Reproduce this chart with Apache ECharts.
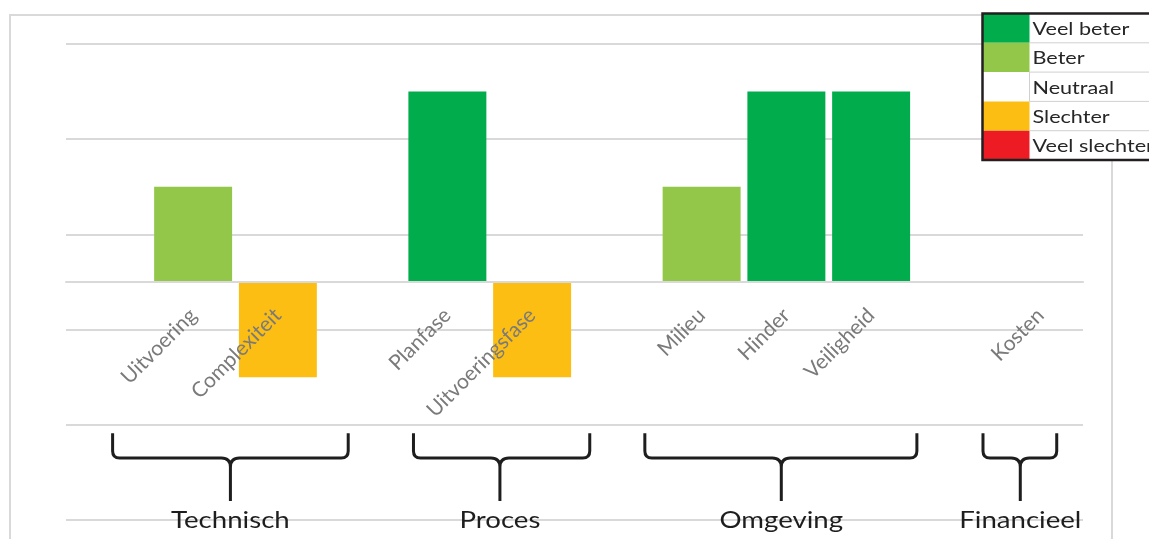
<!DOCTYPE html>
<html>
<head>
<meta charset="utf-8">
<script src="https://cdn.jsdelivr.net/npm/echarts@6/dist/echarts.min.js"></script>
<style>
  html, body { margin: 0; padding: 0; background: #ffffff; }
  #chart { width: 1149px; height: 539px; }
</style>
</head>
<body>
<div id="chart"></div>
<script>
// Aspects on the category axis; empty slots separate the groups
const categories = ['', 'Uitvoering', 'Complexiteit', '', 'Planfase', 'Uitvoeringsfase', '', 'Milieu', 'Hinder', 'Veiligheid', '', 'Kosten'];
// Score per aspect: 2 = veel beter ... -2 = veel slechter
const scores = [null, 1, -1, null, 2, -1, null, 1, 2, 2, null, 0];

// Rating scale shown in the key
const levelNames = ['Veel beter', 'Beter', 'Neutraal', 'Slechter', 'Veel slechter'];
const levelScores = [2, 1, 0, -1, -2];
const levelColors = ['#00ac4c', '#92c74a', '#ffffff', '#fdbe14', '#ed1c24'];

// Groups of aspects
const groupNames = ['Technisch', 'Proces', 'Omgeving', 'Financieel'];
// Reach of each brace along the axis, in category units: [from, to, middle]
const bracketSpans = [[0.55, 3.33, 1.94], [4.1, 6.18, 5.12], [6.83, 10.04, 8.44], [10.82, 11.69, 11.26]];

const FONT = 'Lato';
const TEXT_STRETCH = 1.2;   // the sheet's text is set a little wide
const GRID_COLOR = '#d9d9d9';
const INK = '#1e1e1e';

// Plot area and value range
const GRID = { left: 66, right: 66, top: 44, bottom: 19 };
const Y_MIN = -2.5, Y_MAX = 2.5;
const PLOT_H = 539 - GRID.top - GRID.bottom;
// lift the category axis from the bottom edge up to the zero line
const ZERO_OFFSET = -PLOT_H * (0 - Y_MIN) / (Y_MAX - Y_MIN);

function colorFor(score) {
  return levelColors[levelScores.indexOf(score)];
}

const barData = scores.map(function (s) {
  if (s === null) return '-';
  return { value: s, itemStyle: { color: colorFor(s) } };
});

// Key drawn as a bordered table
const KEY_X = 982.5, KEY_Y = 13.5, ROW_H = 29.3, SW_W = 47, KEY_W = 220, KEY_Z = 100;
const keyItems = [{
  type: 'rect', z: KEY_Z,
  shape: { x: KEY_X, y: KEY_Y, width: KEY_W, height: ROW_H * levelNames.length },
  style: { fill: '#ffffff' }
}];
levelNames.forEach(function (name, i) {
  const top = KEY_Y + i * ROW_H;
  keyItems.push({
    type: 'rect', z: KEY_Z + 1,
    shape: { x: KEY_X, y: top, width: SW_W, height: ROW_H },
    style: { fill: levelColors[i] }
  });
  keyItems.push({
    type: 'text', z: KEY_Z + 2,
    x: KEY_X + SW_W + 3, y: top + ROW_H / 2 + 1,
    scaleX: TEXT_STRETCH,
    style: { text: name, fill: '#262626', font: '18px ' + FONT, textVerticalAlign: 'middle' }
  });
  if (i > 0) {
    keyItems.push({
      type: 'line', z: KEY_Z + 1,
      shape: { x1: KEY_X + SW_W, y1: top, x2: KEY_X + KEY_W, y2: top },
      style: { stroke: '#d0d0d0', lineWidth: 1 }
    });
  }
});
keyItems.push({
  type: 'line', z: KEY_Z + 1,
  shape: { x1: KEY_X + SW_W, y1: KEY_Y + 2 * ROW_H, x2: KEY_X + SW_W, y2: KEY_Y + 3 * ROW_H },
  style: { stroke: '#d0d0d0', lineWidth: 1 }
});
keyItems.push({
  type: 'rect', z: KEY_Z + 3,
  shape: { x: KEY_X, y: KEY_Y, width: KEY_W, height: ROW_H * levelNames.length },
  style: { fill: null, stroke: '#231f20', lineWidth: 2.5 }
});

const chart = echarts.init(document.getElementById('chart'), null, { renderer: 'canvas' });

chart.setOption({
  animation: false,
  backgroundColor: '#ffffff',
  textStyle: { fontFamily: FONT },
  grid: Object.assign({ containLabel: false, outerBoundsMode: 'none' }, GRID),
  xAxis: [
    {
      type: 'category',
      data: categories,
      position: 'bottom',
      offset: ZERO_OFFSET,
      z: 10,
      axisLine: { onZero: false, lineStyle: { color: GRID_COLOR, width: 2 } },
      axisTick: { show: false },
      axisLabel: {
        interval: 0, rotate: 45, margin: 30,
        color: '#7a7a7a', fontSize: 21, fontFamily: FONT
      },
      splitLine: { show: false }
    },
    {
      // helper axis for the group braces, category i sits at i + 0.5
      type: 'value', min: 0, max: categories.length, show: false
    }
  ],
  yAxis: {
    type: 'value',
    min: Y_MIN, max: Y_MAX, interval: 1,
    axisLabel: { show: false },
    axisLine: { show: false },
    axisTick: { show: false },
    splitLine: { lineStyle: { color: GRID_COLOR, width: 2 } }
  },
  series: [
    {
      type: 'bar',
      data: barData,
      barCategoryGap: '8%',
      z: 2
    },
    {
      type: 'custom',
      xAxisIndex: 1,
      yAxisIndex: 0,
      silent: true,
      data: bracketSpans,
      encode: { x: [0, 1, 2] },
      renderItem: function (params, api) {
        const from = api.value(0), to = api.value(1), mid = api.value(2);
        const pL = api.coord([from, -1.59]);
        const pR = api.coord([to, -1.59]);
        const pH = api.coord([mid, -1.85]);
        const pB = api.coord([mid, -2.30]);
        const pT = api.coord([mid, -2.51]);
        const x0 = pL[0], x1 = pR[0], xc = pH[0];
        const yT = pL[1], yH = pH[1], yB = pB[1];
        const r = 7, r2 = 9;
        const path =
          'M' + x0 + ',' + yT +
          'L' + x0 + ',' + (yH - r) +
          'Q' + x0 + ',' + yH + ' ' + (x0 + r) + ',' + yH +
          'L' + (xc - r2) + ',' + yH +
          'Q' + xc + ',' + yH + ' ' + xc + ',' + (yH + r2) +
          'L' + xc + ',' + yB +
          'M' + x1 + ',' + yT +
          'L' + x1 + ',' + (yH - r) +
          'Q' + x1 + ',' + yH + ' ' + (x1 - r) + ',' + yH +
          'L' + (xc + r2) + ',' + yH +
          'Q' + xc + ',' + yH + ' ' + xc + ',' + (yH + r2);
        return {
          type: 'group',
          children: [
            {
              type: 'path',
              shape: { pathData: path },
              style: { fill: null, stroke: INK, lineWidth: 3, lineJoin: 'round' }
            },
            {
              type: 'text',
              x: xc, y: pT[1],
              scaleX: TEXT_STRETCH,
              style: {
                text: groupNames[params.dataIndex],
                fill: INK, font: '23px ' + FONT,
                textAlign: 'center', textVerticalAlign: 'middle'
              }
            }
          ]
        };
      }
    }
  ],
  graphic: [
    {
      type: 'rect',
      z: -1,
      shape: { x: 10, y: 15, width: 1102, height: 600 },
      style: { fill: null, stroke: GRID_COLOR, lineWidth: 2 }
    }
  ].concat(keyItems)
});
</script>
</body>
</html>
